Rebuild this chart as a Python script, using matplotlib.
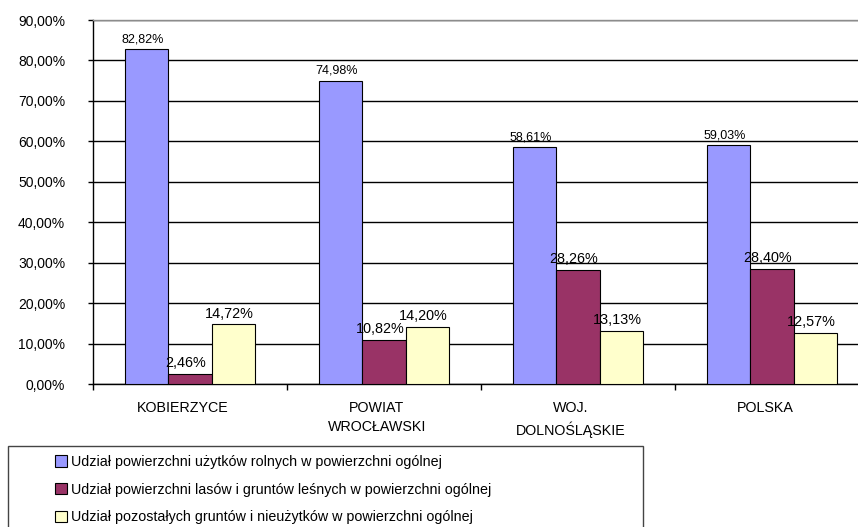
import matplotlib
matplotlib.use("Agg")
import matplotlib.pyplot as plt
import matplotlib.transforms as mtransforms
from matplotlib.patches import Patch, Rectangle
import numpy as np

plt.rcParams['font.family'] = ['Liberation Sans', 'DejaVu Sans']

# --- data ---
categories = ["KOBIERZYCE", "POWIAT\nWROCŁAWSKI", "WOJ.\nDOLNOŚLĄSKIE", "POLSKA"]
series_names = [
    "Udział powierzchni użytków rolnych w powierzchni ogólnej",
    "Udział powierzchni lasów i gruntów leśnych w powierzchni ogólnej",
    "Udział pozostałych gruntów i nieużytków w powierzchni ogólnej",
]
rolne = [82.82, 74.98, 58.61, 59.03]
lesne = [2.46, 10.82, 28.26, 28.40]
pozostale = [14.72, 14.20, 13.13, 12.57]

colors = ["#9999FF", "#993366", "#FFFFCC"]
label_sizes = [9, 10.4, 10.4]


def pl(v):
    return f"{v:.2f}".replace(".", ",") + "%"


W, H = 858, 527
fig = plt.figure(figsize=(W / 100, H / 100), dpi=100)
ax = fig.add_axes([93 / W, 1 - 384 / H, 776 / W, 364 / H])

x = np.arange(len(categories))
w = 0.222
for i, vals in enumerate([rolne, lesne, pozostale]):
    bars = ax.bar(x + (i - 1) * w, vals, w, color=colors[i], edgecolor="black",
                  linewidth=0.8, zorder=3, label=series_names[i])
    for b, v in zip(bars, vals):
        ax.annotate(pl(v), (b.get_x() + b.get_width() / 2, v),
                    xytext=(-3, 5), textcoords="offset points",
                    ha="center", va="baseline", fontsize=label_sizes[i],
                    color="black", zorder=4)

# --- axes formatting ---
ax.set_xlim(-0.5, 3.5)
ax.set_ylim(0, 90)
ax.set_yticks(np.arange(0, 91, 10))
ax.set_yticklabels([pl(t) for t in np.arange(0, 91, 10)], fontsize=10)
ax.yaxis.grid(True, color="black", linewidth=1, zorder=0)
ax.set_axisbelow(True)

ax.set_xticks(x)
ax.set_xticklabels(categories, fontsize=10.3, linespacing=1.5, va="top")
ax.tick_params(axis="x", length=0, pad=12)
ax.set_xticks(np.arange(-0.5, 4, 1), minor=True)
ax.tick_params(axis="x", which="minor", length=4, width=1, direction="out")
ax.tick_params(axis="y", length=3.6, width=1, direction="out", pad=16.5)
off = mtransforms.ScaledTranslation(-7 / 100, 0, fig.dpi_scale_trans)
for lab in ax.get_xticklabels():
    lab.set_transform(lab.get_transform() + off)

for s in ["left", "bottom"]:
    ax.spines[s].set_color("black")
    ax.spines[s].set_linewidth(1)
ax.spines["top"].set_color("#8c8c8c")
ax.spines["top"].set_linewidth(1)
ax.spines["right"].set_visible(False)

# --- legend ---
fig.patches.append(Rectangle((8 / W, -0.05), 635 / W, 1 - 446 / H + 0.05,
                             transform=fig.transFigure, facecolor="white",
                             edgecolor="#444444", linewidth=1, clip_on=False))
handles = [Patch(facecolor=c, edgecolor="black", linewidth=0.8) for c in colors]
fig.legend(handles, series_names, loc="upper left",
           bbox_to_anchor=(55 / W, 1 - 455 / H), frameon=False, fontsize=10.3,
           handlelength=0.85, handleheight=0.85, handletextpad=0.3,
           labelspacing=0.95, borderpad=0, borderaxespad=0)

fig.savefig("out.png", dpi=100)
